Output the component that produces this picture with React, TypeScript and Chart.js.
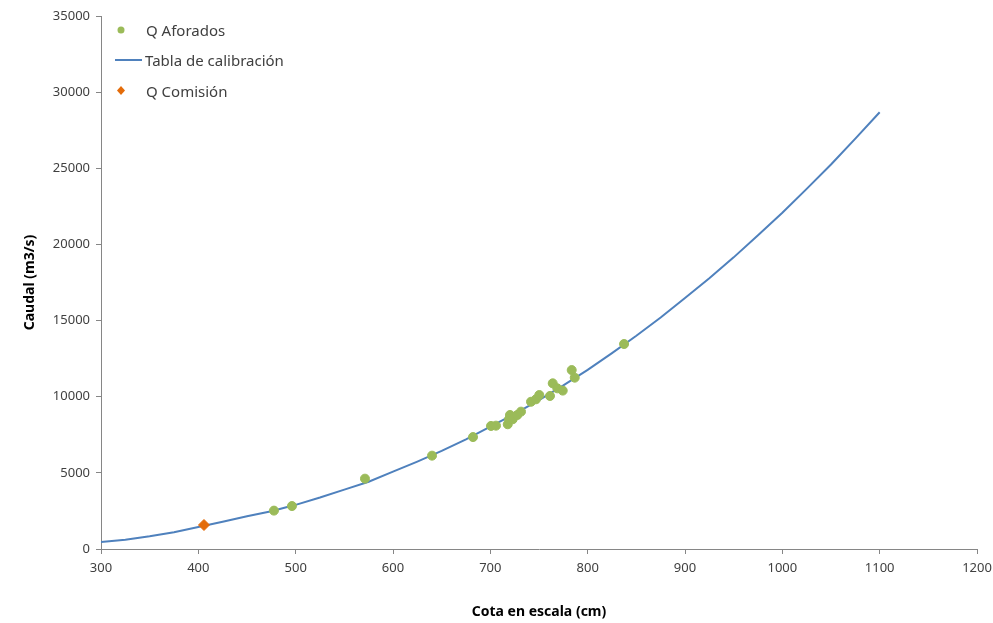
import React, { useEffect, useRef } from "react";
import { Chart, registerables } from "chart.js";

Chart.register(...registerables);

// Tabla de calibración (cota cm, caudal m3/s)
const curveCota = [300, 325, 350, 375, 400, 425, 450, 475, 500, 525, 550, 575, 600, 625, 650, 675, 700, 725, 750, 775, 800, 825, 850, 875, 900, 925, 950, 975, 1000, 1025, 1050, 1075, 1100];
const curveQ = [460, 610, 830, 1100, 1440, 1790, 2150, 2480, 2900, 3380, 3900, 4420, 5080, 5740, 6440, 7200, 8030, 8880, 9780, 10740, 11760, 12860, 14000, 15200, 16480, 17780, 19150, 20600, 22080, 23650, 25250, 26950, 28680];

// Q Aforados
const aforCota = [477.7, 496.2, 571.2, 640.1, 682.2, 700.7, 705.8, 717.9, 720.2, 719.2, 723.0, 727.7, 731.5, 741.8, 746.9, 750.3, 761.3, 764.1, 768.8, 774.4, 783.6, 786.7, 837.4];
const aforQ = [2520, 2820, 4620, 6130, 7350, 8080, 8100, 8190, 8800, 8520, 8520, 8800, 9020, 9670, 9830, 10110, 10050, 10880, 10550, 10400, 11750, 11250, 13460];

// Q Comisión
const comCota = [405.8];
const comQ = [1576];

const seriesNames = ["Q Aforados", "Tabla de calibración", "Q Comisión"];
const xTitle = "Cota en escala (cm)";
const yTitle = "Caudal (m3/s)";

const GREEN = "#9BBB59";
const BLUE = "#4F81BD";
const ORANGE = "#E46C0A";
const AXIS = "#868686";
const FONT = "'Noto Sans', 'Open Sans', sans-serif";

const legendPlugin = {
  id: "customLegend",
  afterDraw(chart: any) {
    const ctx = chart.ctx;
    ctx.save();
    ctx.font = `15px ${FONT}`;
    ctx.textBaseline = "middle";
    ctx.textAlign = "left";
    // Q Aforados
    ctx.beginPath();
    ctx.fillStyle = GREEN;
    ctx.arc(121, 30, 3.5, 0, Math.PI * 2);
    ctx.fill();
    ctx.fillStyle = "#404040";
    ctx.fillText(seriesNames[0], 146, 32);
    // Tabla
    ctx.strokeStyle = BLUE;
    ctx.lineWidth = 2;
    ctx.beginPath();
    ctx.moveTo(115, 60);
    ctx.lineTo(142, 60);
    ctx.stroke();
    ctx.fillText(seriesNames[1], 145, 62);
    // Q Comisión
    ctx.fillStyle = ORANGE;
    ctx.beginPath();
    ctx.moveTo(121, 86);
    ctx.lineTo(125, 90.5);
    ctx.lineTo(121, 95);
    ctx.lineTo(117, 90.5);
    ctx.closePath();
    ctx.fill();
    ctx.fillStyle = "#404040";
    ctx.fillText(seriesNames[2], 146, 93);
    ctx.restore();
  },
};

export default function App() {
  const ref = useRef<HTMLCanvasElement | null>(null);
  useEffect(() => {
    if (!ref.current) return;
    const chart = new Chart(ref.current, {
      type: "scatter",
      data: {
        datasets: [
          {
            label: seriesNames[0],
            data: aforCota.map((x, i) => ({ x, y: aforQ[i] })),
            backgroundColor: GREEN,
            borderColor: GREEN,
            pointRadius: 4.5,
            pointStyle: "circle",
            showLine: false,
            order: 1,
          },
          {
            label: seriesNames[1],
            data: curveCota.map((x, i) => ({ x, y: curveQ[i] })),
            borderColor: BLUE,
            backgroundColor: BLUE,
            borderWidth: 2,
            pointRadius: 0,
            showLine: true,
            tension: 0,
            order: 2,
          },
          {
            label: seriesNames[2],
            data: comCota.map((x, i) => ({ x, y: comQ[i] })),
            backgroundColor: ORANGE,
            borderColor: ORANGE,
            pointStyle: "rectRot",
            pointRadius: 5.5,
            showLine: false,
            order: 0,
          },
        ],
      },
      options: {
        animation: false,
        responsive: false,
        maintainAspectRatio: false,
        layout: { padding: { top: 16, right: 16, left: 0, bottom: 0 } },
        plugins: {
          legend: { display: false },
          tooltip: { enabled: false },
        },
        scales: {
          x: {
            type: "linear",
            min: 300,
            max: 1200,
            ticks: { stepSize: 100, color: "#404040", font: { size: 13, family: FONT }, padding: 6, callback: (v: any) => String(v) },
            grid: { drawOnChartArea: false, drawTicks: true, tickLength: 5, color: AXIS },
            border: { color: AXIS, width: 1 },
            title: { display: true, text: xTitle, color: "#000", font: { size: 14, weight: "bold", family: FONT }, padding: { top: 18, bottom: 3 } },
            afterFit: (s: any) => { s.height = 74; s.paddingRight = 0; s.paddingLeft = 0; },
          },
          y: {
            type: "linear",
            min: 0,
            max: 35000,
            ticks: { stepSize: 5000, color: "#404040", font: { size: 13, family: FONT }, padding: 6, callback: (v: any) => String(v) },
            grid: { drawOnChartArea: false, drawTicks: true, tickLength: 5, color: AXIS },
            border: { color: AXIS, width: 1 },
            title: { display: true, text: yTitle, color: "#000", font: { size: 14, weight: "bold", family: FONT }, padding: { top: 22, bottom: 22 } },
            afterFit: (s: any) => { s.width = 101; s.paddingTop = 0; s.paddingBottom = 0; },
          },
        },
      },
      plugins: [legendPlugin],
    } as any);
    return () => chart.destroy();
  }, []);
  return (
    <div style={{ position: "fixed", left: 0, top: 0, width: 993, height: 623, background: "#fff" }}>
      <canvas ref={ref} width={993} height={623} style={{ width: 993, height: 623 }} />
    </div>
  );
}
